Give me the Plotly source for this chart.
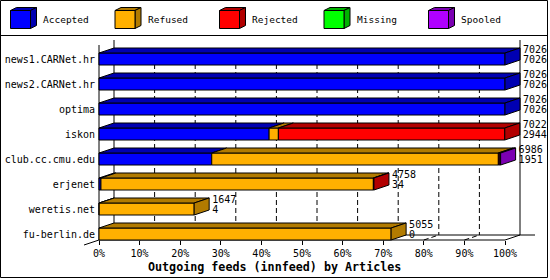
import plotly.graph_objects as go

# ---------------- data ----------------
hosts = ["news1.CARNet.hr", "news2.CARNet.hr", "optima", "iskon",
         "club.cc.cmu.edu", "erjenet", "weretis.net", "fu-berlin.de"]
offered = [7026, 7026, 7026, 7022, 6986, 4758, 1647, 5055]
accepted = [7026, 7026, 7026, 2944, 1951, 34, 4, 0]
refused = [0, 0, 0, 160, 4960, 4714, 1643, 5055]
rejected = [0, 0, 0, 3918, 25, 10, 0, 0]
missing = [0, 0, 0, 0, 0, 0, 0, 0]
spooled = [0, 0, 0, 0, 14, 0, 0, 0]
series_names = ["Accepted", "Refused", "Rejected", "Missing", "Spooled"]
x_ticks = [0, 10, 20, 30, 40, 50, 60, 70, 80, 90, 100]
x_tick_labels = ["0%", "10%", "20%", "30%", "40%", "50%", "60%", "70%", "80%", "90%", "100%"]
title_text = "Outgoing feeds (innfeed) by Articles"

# ---------------- style ----------------
front_colors = ["#0000FF", "#FFB000", "#FF0000", "#00FF00", "#B000FF"]
dark_colors = ["#0000B2", "#B27B00", "#B20000", "#00B200", "#7B00B2"]
FONT = "DejaVu Sans Mono"

W, H = 550, 280
X0_PX, X100_PX = 99, 505
PXU = (X100_PX - X0_PX) / 100.0
ROW0_PX, ROW_PITCH = 59, 25
DEPTH_X_PX, DEPTH_Y_PX = 15, 5
HALF_PX = 6
BACK_TOP_PX, FRONT_TOP_PX, GRID_TOP_PX = 40, 45, 48
FLOOR_FRONT_PX, FLOOR_BACK_PX = 240, 235


def vy(py):
    return (py - ROW0_PX) / ROW_PITCH


def vx(px):
    return (px - X0_PX) / PXU


dxu = DEPTH_X_PX / PXU
dyu = DEPTH_Y_PX / ROW_PITCH
h = HALF_PX / ROW_PITCH

full = max(offered)
series = [accepted, refused, rejected, missing, spooled]
pct = [[v / full * 100.0 for v in s] for s in series]
rows = list(range(len(hosts)))

fig = go.Figure()

# ---------------- back walls / grid ----------------
dx_, dy_ = [], []
for t in x_ticks[1:-1]:
    dx_ += [t + dxu, t + dxu, None]
    dy_ += [vy(GRID_TOP_PX), vy(FLOOR_BACK_PX), None]
    dx_ += [t, t + dxu, None]
    dy_ += [vy(FLOOR_FRONT_PX), vy(FLOOR_BACK_PX), None]
fig.add_trace(go.Scatter(x=dx_, y=dy_, mode="lines", hoverinfo="skip",
                         line=dict(color="black", width=1, dash="5px,3px"),
                         showlegend=False))
sx, sy = [], []
for t in (x_ticks[0], x_ticks[-1]):
    sx += [t + dxu, t + dxu, None]
    sy += [vy(BACK_TOP_PX), vy(FLOOR_BACK_PX), None]
sx += [x_ticks[-1], x_ticks[-1] + dxu, None]
sy += [vy(FLOOR_FRONT_PX), vy(FLOOR_BACK_PX), None]
sx += [x_ticks[0] - dxu, x_ticks[0] + dxu, None]
sy += [vy(FLOOR_FRONT_PX) + dyu, vy(FLOOR_BACK_PX), None]
sx += [x_ticks[0] + dxu, x_ticks[-1] + 2 * dxu, None]
sy += [vy(FLOOR_BACK_PX), vy(FLOOR_BACK_PX), None]
# front axis lines (left wall edge and floor edge)
sx += [x_ticks[0], x_ticks[0], x_ticks[-1], None]
sy += [vy(FRONT_TOP_PX), vy(FLOOR_FRONT_PX), vy(FLOOR_FRONT_PX), None]
fig.add_trace(go.Scatter(x=sx, y=sy, mode="lines", hoverinfo="skip",
                         line=dict(color="black", width=1), showlegend=False))

# ---------------- bar faces ----------------
totals = [sum(pct[j][i] for j in range(len(series))) for i in rows]
for j in range(len(series)):
    fx, fy, tx, ty = [], [], [], []
    for i in rows:
        v = pct[j][i]
        if v <= 0:
            continue
        x0 = sum(pct[k][i] for k in range(j))
        x1 = x0 + v
        fx += [x0, x1, x1, x0, x0, None]
        fy += [i - h, i - h, i + h, i + h, i - h, None]
        tx += [x0, x1, x1 + dxu, x0 + dxu, x0, None]
        ty += [i - h, i - h, i - h - dyu, i - h - dyu, i - h, None]
    if fx:
        fig.add_trace(go.Scatter(x=fx, y=fy, mode="lines", fill="toself",
                                 fillcolor=front_colors[j], name=series_names[j],
                                 line=dict(color="black", width=1),
                                 hoverinfo="skip", showlegend=False))
        fig.add_trace(go.Scatter(x=tx, y=ty, mode="lines", fill="toself",
                                 fillcolor=dark_colors[j],
                                 line=dict(color="black", width=1),
                                 hoverinfo="skip", showlegend=False))

side = {}
for i in rows:
    last = max(j for j in range(len(series)) if pct[j][i] > 0)
    xe = totals[i]
    px_, py_ = side.setdefault(last, ([], []))
    px_ += [xe, xe + dxu, xe + dxu, xe, xe, None]
    py_ += [i - h, i - h - dyu, i + h - dyu, i + h, i - h, None]
for j, (px_, py_) in side.items():
    fig.add_trace(go.Scatter(x=px_, y=py_, mode="lines", fill="toself",
                             fillcolor=dark_colors[j],
                             line=dict(color="black", width=1),
                             hoverinfo="skip", showlegend=False))

# ---------------- value labels ----------------
GAP_PX = 3
lab_x = [totals[i] + dxu + GAP_PX / PXU for i in rows]
fig.add_trace(go.Scatter(x=lab_x, y=[i - 8.5 / ROW_PITCH for i in rows],
                         text=[str(v) for v in offered], mode="text",
                         textposition="middle right", cliponaxis=False,
                         textfont=dict(family=FONT, size=10, color="black"),
                         hoverinfo="skip", showlegend=False))
fig.add_trace(go.Scatter(x=lab_x, y=[i + 1.5 / ROW_PITCH for i in rows],
                         text=[str(v) for v in accepted], mode="text",
                         textposition="middle right", cliponaxis=False,
                         textfont=dict(family=FONT, size=10, color="black"),
                         hoverinfo="skip", showlegend=False))

# ---------------- layout ----------------
def px(x):
    return x / W


def py(y):
    return 1 - y / H


shapes = []
annotations = []
shapes.append(dict(type="rect", xref="paper", yref="paper",
                   x0=px(0.5), x1=px(547.5), y0=py(0.5), y1=py(277.5),
                   line=dict(color="black", width=1), fillcolor="rgba(0,0,0,0)"))
shapes.append(dict(type="line", xref="paper", yref="paper",
                   x0=px(0), x1=px(547.5), y0=py(35.5), y1=py(35.5),
                   line=dict(color="black", width=1)))

for k, name in enumerate(series_names):
    bx = 10.5 + 104.5 * k
    top, bot, w, ddx, ddy = 10.5, 28.5, 20, 6, 3
    shapes.append(dict(type="path", xref="paper", yref="paper",
                       path=f"M{px(bx)},{py(top)} L{px(bx+w)},{py(top)} L{px(bx+w+ddx)},{py(top-ddy)} L{px(bx+ddx)},{py(top-ddy)} Z",
                       fillcolor=dark_colors[k], line=dict(color="black", width=1)))
    shapes.append(dict(type="path", xref="paper", yref="paper",
                       path=f"M{px(bx+w)},{py(top)} L{px(bx+w+ddx)},{py(top-ddy)} L{px(bx+w+ddx)},{py(bot-ddy)} L{px(bx+w)},{py(bot)} Z",
                       fillcolor=dark_colors[k], line=dict(color="black", width=1)))
    shapes.append(dict(type="rect", xref="paper", yref="paper",
                       x0=px(bx), x1=px(bx + w), y0=py(bot), y1=py(top),
                       fillcolor=front_colors[k], line=dict(color="black", width=1)))
    annotations.append(dict(xref="paper", yref="paper", x=px(bx + 30.5), y=py(20),
                            xanchor="left", yanchor="middle", showarrow=False,
                            text=name, font=dict(family=FONT, size=9.5, color="black")))

annotations.append(dict(xref="paper", yref="paper", x=px(274), y=py(267),
                        xanchor="center", yanchor="middle", showarrow=False,
                        text="<b>" + title_text + "</b>",
                        font=dict(family=FONT, size=11.7, color="black")))

fig.update_layout(
    width=W, height=H, margin=dict(l=0, r=0, t=0, b=0),
    paper_bgcolor="white", plot_bgcolor="rgba(0,0,0,0)",
    showlegend=False,
    xaxis=dict(domain=[0, 1], range=[vx(0), vx(W)], anchor="free",
               position=py(FLOOR_FRONT_PX), side="bottom",
               tickvals=x_ticks, ticktext=x_tick_labels, ticks="outside",
               ticklen=4, tickcolor="black", showline=False, showgrid=False,
               zeroline=False, fixedrange=True,
               tickfont=dict(family=FONT, size=10, color="black")),
    yaxis=dict(domain=[0, 1], range=[vy(H), vy(0)], anchor="free",
               position=px(X0_PX), side="left",
               tickvals=rows, ticktext=hosts, ticks="", showline=False,
               showgrid=False, zeroline=False, fixedrange=True,
               ticklabelstandoff=4,
               tickfont=dict(family=FONT, size=10, color="black")),
    shapes=shapes, annotations=annotations,
)

fig.write_html("out.html")
